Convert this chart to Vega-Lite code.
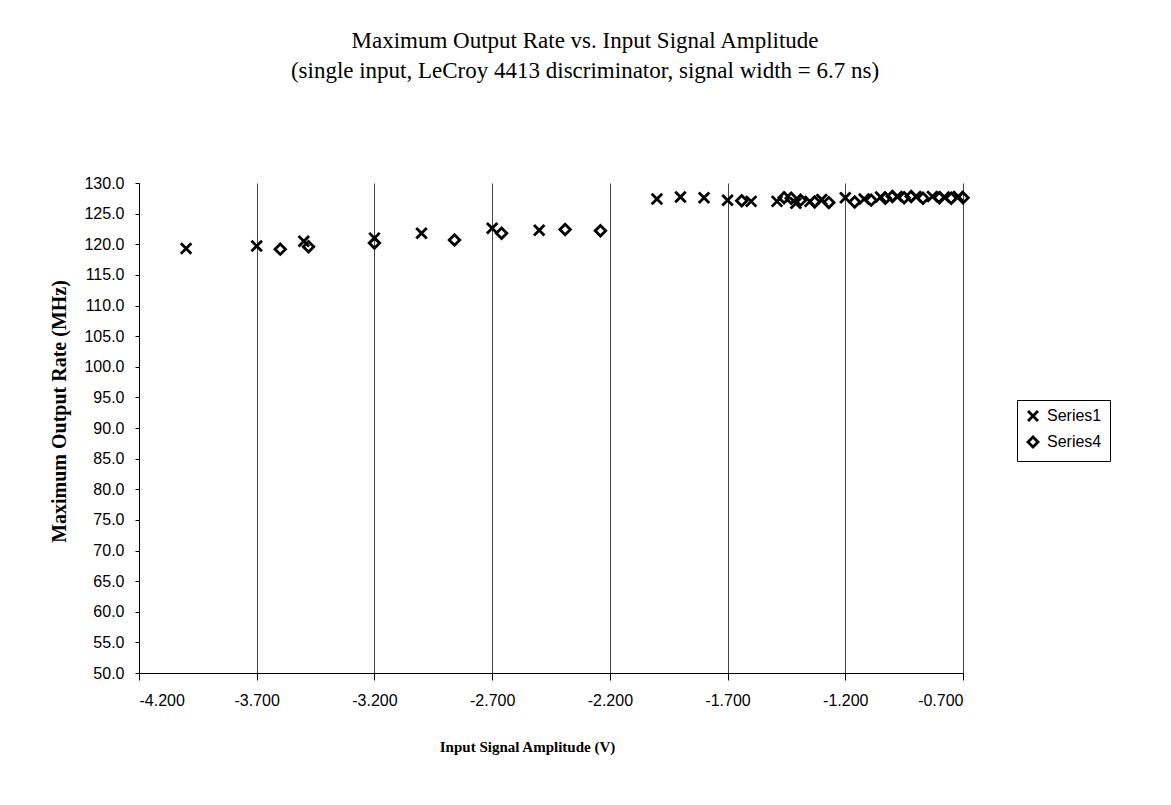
{
  "$schema": "https://vega.github.io/schema/vega-lite/v6.json",
  "width": 824,
  "height": 490,
  "autosize": {"type": "none"},
  "padding": {"left": 139, "top": 183, "right": 208, "bottom": 132},
  "background": "white",
  "title": {
    "text": ["Maximum Output Rate vs. Input Signal Amplitude", "(single input, LeCroy 4413 discriminator, signal width = 6.7 ns)"],
    "font": "Liberation Serif",
    "fontSize": 23,
    "fontWeight": "normal",
    "color": "black",
    "anchor": "middle",
    "dx": 34,
    "offset": 92,
    "lineHeight": 30
  },
  "data": {
    "values": [
      {"series": "Series1", "amp": -4.0, "rate": 119.3},
      {"series": "Series1", "amp": -3.7, "rate": 119.7},
      {"series": "Series1", "amp": -3.5, "rate": 120.5},
      {"series": "Series1", "amp": -3.2, "rate": 121.0},
      {"series": "Series1", "amp": -3.0, "rate": 121.8},
      {"series": "Series1", "amp": -2.7, "rate": 122.6},
      {"series": "Series1", "amp": -2.5, "rate": 122.3},
      {"series": "Series1", "amp": -2.0, "rate": 127.4},
      {"series": "Series1", "amp": -1.9, "rate": 127.7},
      {"series": "Series1", "amp": -1.8, "rate": 127.6},
      {"series": "Series1", "amp": -1.7, "rate": 127.2},
      {"series": "Series1", "amp": -1.6, "rate": 127.0},
      {"series": "Series1", "amp": -1.49, "rate": 127.0},
      {"series": "Series1", "amp": -1.41, "rate": 126.7},
      {"series": "Series1", "amp": -1.35, "rate": 127.0},
      {"series": "Series1", "amp": -1.3, "rate": 127.3},
      {"series": "Series1", "amp": -1.2, "rate": 127.6},
      {"series": "Series1", "amp": -1.12, "rate": 127.4},
      {"series": "Series1", "amp": -1.05, "rate": 127.7},
      {"series": "Series1", "amp": -0.98, "rate": 127.8},
      {"series": "Series1", "amp": -0.9, "rate": 127.8},
      {"series": "Series1", "amp": -0.83, "rate": 127.8},
      {"series": "Series1", "amp": -0.78, "rate": 127.7},
      {"series": "Series1", "amp": -0.72, "rate": 127.8},
      {"series": "Series4", "amp": -3.6, "rate": 119.2},
      {"series": "Series4", "amp": -3.48, "rate": 119.6},
      {"series": "Series4", "amp": -3.2, "rate": 120.2},
      {"series": "Series4", "amp": -2.86, "rate": 120.7},
      {"series": "Series4", "amp": -2.66, "rate": 121.8},
      {"series": "Series4", "amp": -2.39, "rate": 122.4},
      {"series": "Series4", "amp": -2.24, "rate": 122.2},
      {"series": "Series4", "amp": -1.64, "rate": 127.1},
      {"series": "Series4", "amp": -1.46, "rate": 127.6},
      {"series": "Series4", "amp": -1.43, "rate": 127.5},
      {"series": "Series4", "amp": -1.39, "rate": 127.2},
      {"series": "Series4", "amp": -1.33, "rate": 126.9},
      {"series": "Series4", "amp": -1.27, "rate": 126.8},
      {"series": "Series4", "amp": -1.16, "rate": 126.9},
      {"series": "Series4", "amp": -1.09, "rate": 127.2},
      {"series": "Series4", "amp": -1.03, "rate": 127.5},
      {"series": "Series4", "amp": -1.0, "rate": 127.8},
      {"series": "Series4", "amp": -0.95, "rate": 127.6},
      {"series": "Series4", "amp": -0.92, "rate": 127.8},
      {"series": "Series4", "amp": -0.87, "rate": 127.5},
      {"series": "Series4", "amp": -0.8, "rate": 127.6},
      {"series": "Series4", "amp": -0.75, "rate": 127.5},
      {"series": "Series4", "amp": -0.7, "rate": 127.6}
    ]
  },
  "mark": {"type": "point", "filled": false, "strokeWidth": 2.8, "color": "black", "opacity": 1, "size": 110},
  "encoding": {
    "x": {
      "field": "amp",
      "type": "quantitative",
      "scale": {"domain": [-4.2, -0.7], "nice": false, "zero": false},
      "axis": {
        "values": [-4.2, -3.7, -3.2, -2.7, -2.2, -1.7, -1.2, -0.7],
        "labelExpr": "replace(format(datum.value, '.3f'), '\u2212', '-')",
        "grid": true,
        "gridColor": "#444",
        "gridWidth": 1,
        "domainColor": "black",
        "tickColor": "black",
        "tickSize": 7,
        "labelFont": "Liberation Sans",
        "labelFontSize": 16,
        "labelColor": "black",
        "labelPadding": 12,
        "title": "Input Signal Amplitude (V)",
        "titleFont": "Liberation Serif",
        "titleFontWeight": "bold",
        "titleFontSize": 15,
        "titleColor": "black",
        "titlePadding": 31,
        "titleX": 388
      }
    },
    "y": {
      "field": "rate",
      "type": "quantitative",
      "scale": {"domain": [50, 130], "nice": false, "zero": false},
      "axis": {
        "values": [50, 55, 60, 65, 70, 75, 80, 85, 90, 95, 100, 105, 110, 115, 120, 125, 130],
        "format": ".1f",
        "grid": false,
        "domainColor": "black",
        "tickColor": "black",
        "tickSize": 4,
        "labelFont": "Liberation Sans",
        "labelFontSize": 16,
        "labelColor": "black",
        "labelPadding": 11,
        "title": "Maximum Output Rate (MHz)",
        "titleFont": "Liberation Serif",
        "titleFontWeight": "bold",
        "titleFontSize": 20,
        "titleColor": "black",
        "titlePadding": 14,
        "titleY": 228
      }
    },
    "shape": {
      "field": "series",
      "type": "nominal",
      "scale": {"domain": ["Series1", "Series4"], "range": ["M-1,-1L1,1M-1,1L1,-1", "diamond"]},
      "legend": {
        "orient": "none",
        "legendX": 878,
        "legendY": 217,
        "title": null,
        "strokeColor": "black",
        "fillColor": "white",
        "padding": 8,
        "rowPadding": 4,
        "labelFont": "Liberation Sans",
        "labelFontSize": 16,
        "labelColor": "black",
        "labelOffset": 6,
        "symbolStrokeColor": "black",
        "symbolFillColor": "transparent",
        "symbolStrokeWidth": 2.8,
        "symbolSize": 100
      }
    }
  },
  "config": {"view": {"stroke": null}}
}
